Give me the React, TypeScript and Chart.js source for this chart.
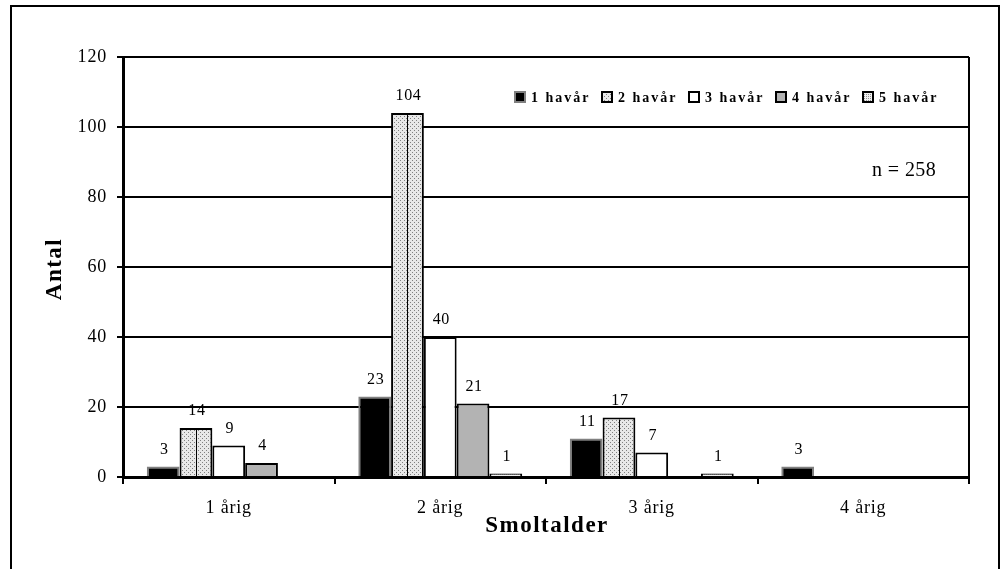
import { useEffect, useRef } from "react";
import { Chart, registerables } from "chart.js";

Chart.register(...registerables);

const categories = ["1 årig", "2 årig", "3 årig", "4 årig"];
const seriesLabels = ["1 havår", "2 havår", "3 havår", "4 havår", "5 havår"];
const havar1 = [3, 23, 11, 3];
const havar2 = [14, 104, 17, 0];
const havar3 = [9, 40, 7, 0];
const havar4 = [4, 21, 0, 0];
const havar5 = [0, 1, 1, 0];
const yTicks = [0, 20, 40, 60, 80, 100, 120];
const sampleNote = "n = 258";
const xTitle = "Smoltalder";
const yTitle = "Antal";

const SERIF = "'Liberation Serif', 'Times New Roman', serif";

function makePattern(bg: string, dot: string, cross: boolean): CanvasPattern | string {
  const c = document.createElement("canvas");
  c.width = 4;
  c.height = 4;
  const g = c.getContext("2d");
  if (!g) return bg;
  g.fillStyle = bg;
  g.fillRect(0, 0, 4, 4);
  g.fillStyle = dot;
  g.fillRect(0, 0, 1, 1);
  g.fillRect(2, 2, 1, 1);
  if (cross) {
    g.fillRect(2, 0, 1, 1);
    g.fillRect(0, 2, 1, 1);
  }
  const p = g.createPattern(c, "repeat");
  return p || bg;
}

function setSpacing(ctx: any, px: number) {
  try {
    ctx.letterSpacing = px + "px";
  } catch (e) {}
}

export default function App() {
  const ref = useRef<HTMLCanvasElement>(null);

  useEffect(() => {
    document.body.style.margin = "0";
    const canvas = ref.current;
    if (!canvas) return;

    const dots = makePattern("#e8e8e8", "#808080", false);
    const dots5 = makePattern("#f0f0f0", "#909090", true);

    const fills = ["#000000", dots, "#ffffff", "#b3b3b3", dots5];
    const borders = ["#808080", "#000000", "#000000", "#000000", "#000000"];
    const series = [havar1, havar2, havar3, havar4, havar5];

    const decor = {
      id: "decor",
      beforeDraw(chart: any) {
        const ctx = chart.ctx;
        ctx.save();
        ctx.fillStyle = "#ffffff";
        ctx.fillRect(0, 0, chart.width, chart.height);
        ctx.strokeStyle = "#000";
        ctx.lineWidth = 2;
        ctx.strokeRect(11, 6, chart.width - 15, chart.height + 20);
        ctx.restore();
        setSpacing(ctx, 0.8);
      },
      afterDatasetsDraw(chart: any) {
        const ctx = chart.ctx;
        ctx.save();
        const meta2 = chart.getDatasetMeta(1);
        meta2.data.forEach((el: any, i: number) => {
          if (!havar2[i]) return;
          ctx.strokeStyle = "#000";
          ctx.lineWidth = 1;
          ctx.beginPath();
          ctx.moveTo(Math.round(el.x) + 0.5, el.base);
          ctx.lineTo(Math.round(el.x) + 0.5, el.y + 2);
          ctx.stroke();
        });
        ctx.fillStyle = "#000";
        ctx.font = `16px ${SERIF}`;
        setSpacing(ctx, 0.6);
        ctx.textAlign = "center";
        ctx.textBaseline = "middle";
        series.forEach((vals, di) => {
          const meta = chart.getDatasetMeta(di);
          meta.data.forEach((el: any, i: number) => {
            const v = vals[i];
            if (!v) return;
            ctx.fillText(String(v), el.x + 1, el.y - 17);
          });
        });
        ctx.restore();
      },
      afterDraw(chart: any) {
        const ctx = chart.ctx;
        const a = chart.chartArea;
        ctx.save();
        ctx.strokeStyle = "#000";
        ctx.lineWidth = 2;
        ctx.beginPath();
        ctx.moveTo(a.right, a.top);
        ctx.lineTo(a.right, a.bottom + 6);
        ctx.stroke();

        // legend
        const ly = a.top + 40;
        let lx = a.right - 454;
        ctx.font = `bold 14px ${SERIF}`;
        ctx.textAlign = "left";
        ctx.textBaseline = "middle";
        setSpacing(ctx, 2);
        seriesLabels.forEach((lab, i) => {
          ctx.fillStyle = fills[i] as any;
          ctx.fillRect(lx, ly - 5, 10, 10);
          ctx.strokeStyle = i === 0 ? "#808080" : "#000";
          ctx.lineWidth = 2;
          ctx.strokeRect(lx, ly - 5, 10, 10);
          ctx.fillStyle = "#000";
          ctx.fillText(lab, lx + 16, ly + 1);
          lx += 87;
        });

        // n note
        ctx.font = `20px ${SERIF}`;
        setSpacing(ctx, 0.4);
        ctx.textAlign = "left";
        ctx.fillText(sampleNote, a.right - 97, a.top + 114);

        // axis titles
        ctx.font = `bold 23px ${SERIF}`;
        setSpacing(ctx, 1.5);
        ctx.textAlign = "center";
        ctx.textBaseline = "middle";
        ctx.fillText(xTitle, (a.left + a.right) / 2 + 1, a.bottom + 49);
        ctx.translate(a.left - 68, (a.top + a.bottom) / 2 + 2);
        ctx.rotate(-Math.PI / 2);
        ctx.fillText(yTitle, 0, 0);
        ctx.restore();
      },
    };

    const chart = new Chart(canvas, {
      type: "bar",
      data: {
        labels: categories,
        datasets: series.map((vals, i) => ({
          label: seriesLabels[i],
          data: vals,
          backgroundColor: fills[i] as any,
          borderColor: borders[i],
          borderWidth: 2,
          categoryPercentage: 0.775,
          barPercentage: 1,
        })),
      },
      options: {
        responsive: false,
        animation: false,
        devicePixelRatio: 1,
        layout: { padding: { left: 11, top: 57, right: 34, bottom: 0 } },
        plugins: {
          legend: { display: false },
          tooltip: { enabled: false },
        },
        scales: {
          x: {
            grid: {
              drawOnChartArea: false,
              offset: true,
              color: "#000",
              lineWidth: 2,
              tickLength: 7,
            },
            border: { color: "#000", width: 3 },
            ticks: {
              color: "#000",
              font: { family: SERIF, size: 18 },
              padding: 13,
            },
            afterFit: (s: any) => {
              s.height = 92;
            },
          },
          y: {
            min: 0,
            max: 120,
            afterBuildTicks: (s: any) => {
              s.ticks = yTicks.map((v) => ({ value: v }));
            },
            grid: { color: "#000", lineWidth: 2, tickLength: 6 },
            border: { color: "#000", width: 3 },
            ticks: {
              color: "#000",
              font: { family: SERIF, size: 18 },
              padding: 10,
            },
            afterFit: (s: any) => {
              s.width = 112;
            },
          },
        },
      },
      plugins: [decor],
    });

    return () => chart.destroy();
  }, []);

  return <canvas ref={ref} width={1003} height={569} style={{ display: "block" }} />;
}
